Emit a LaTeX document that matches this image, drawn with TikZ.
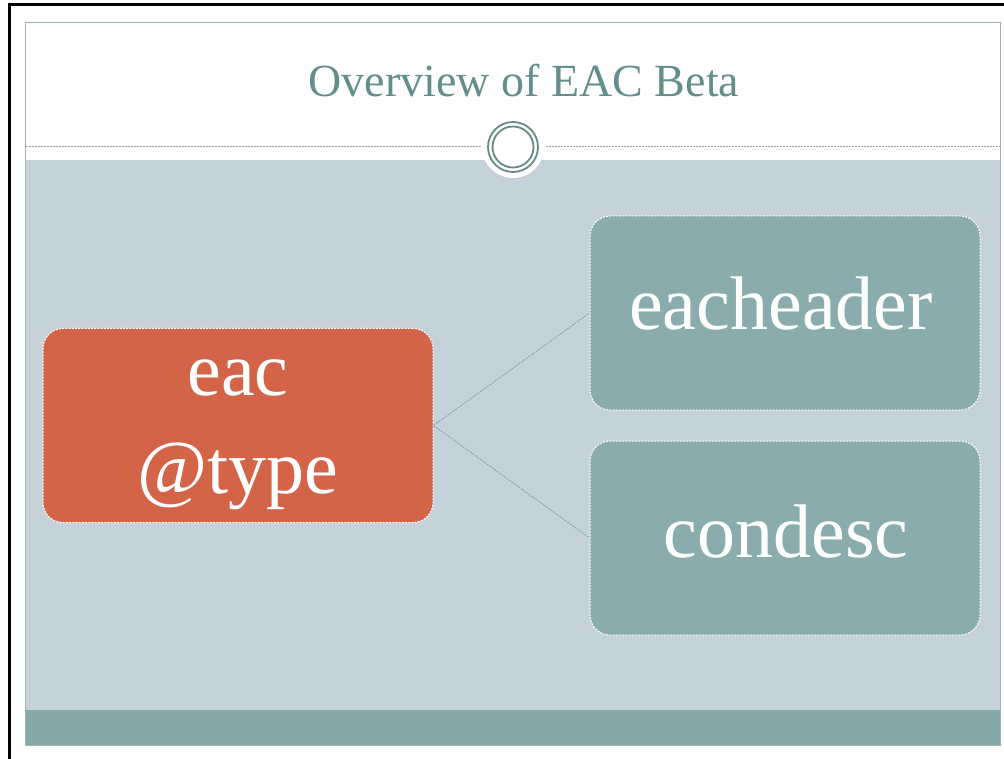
\documentclass[tikz,border=0pt]{standalone}
\usepackage{fontspec}
\setmainfont{Liberation Serif}
\definecolor{frameline}{RGB}{160,180,178}
\definecolor{ruleline}{RGB}{150,160,165}
\definecolor{contentbg}{RGB}{198,210,217}
\definecolor{bandteal}{RGB}{134,168,168}
\definecolor{rootorange}{RGB}{212,100,72}
\definecolor{leafteal}{RGB}{138,172,172}
\definecolor{titleteal}{RGB}{98,143,138}
\definecolor{ringteal}{RGB}{100,140,135}
\definecolor{linkgrey}{RGB}{130,152,164}
\tikzset{
  box/.style={rounded corners=20pt, draw=white, line width=1pt,
    dash pattern=on 2pt off 1.2pt, minimum width=390pt, minimum height=194pt,
    inner sep=0pt},
  rootbox/.style={box, fill=rootorange},
  leafbox/.style={box, fill=leafteal},
  boxtext/.style={text=white, font=\fontsize{76}{90}\selectfont, anchor=base, inner sep=0pt},
  link/.style={draw=linkgrey, line width=0.7pt, dash pattern=on 2pt off 1pt},
}
\begin{document}
\begin{tikzpicture}[x=1pt,y=-1pt]
\useasboundingbox (0,0) rectangle (1004,759);
\fill[white] (0,0) rectangle (1004,759);
% slide areas
\fill[contentbg] (25,160) rectangle (1000,710);
\fill[bandteal] (25,710) rectangle (1000,745);
\draw[frameline, line width=0.8pt] (25,22) rectangle (1000,745);
% header rule with the ring ornament
\draw[ruleline, line width=0.8pt, dash pattern=on 2pt off 1pt] (25.5,146) -- (481,146);
\draw[ruleline, line width=0.8pt, dash pattern=on 2pt off 1pt] (546,146) -- (999.5,146);
\fill[white] (513,147) circle (31);
\draw[ringteal, line width=1.8pt] (513,147) circle (25);
\draw[ringteal, line width=1.8pt] (513,147) circle (20.5);
% title
\node[anchor=base, text=titleteal, font=\fontsize{46}{55}\selectfont, inner sep=0pt]
  (title) at (524,97) {Overview of EAC Beta};
% boxes
\node[rootbox] (eac) at (238,425.5) {};
\node[leafbox] (eacheader) at (785,313) {};
\node[leafbox] (condesc) at (785,538) {};
% connectors
\draw[link] (eac.east) -- (eacheader.west);
\draw[link] (eac.east) -- (condesc.west);
% box labels
\node[boxtext] (eac1) at (238,395) {eac};
\node[boxtext] (eac2) at (238,493) {@type};
\node[boxtext] (eacheadertxt) at (781,330) {eacheader};
\node[boxtext] (condesctxt) at (786,557) {condesc};
% outer black edge
\draw[black, line width=3pt] (9.5,759) -- (9.5,5) -- (1004,5);
\end{tikzpicture}
\end{document}
